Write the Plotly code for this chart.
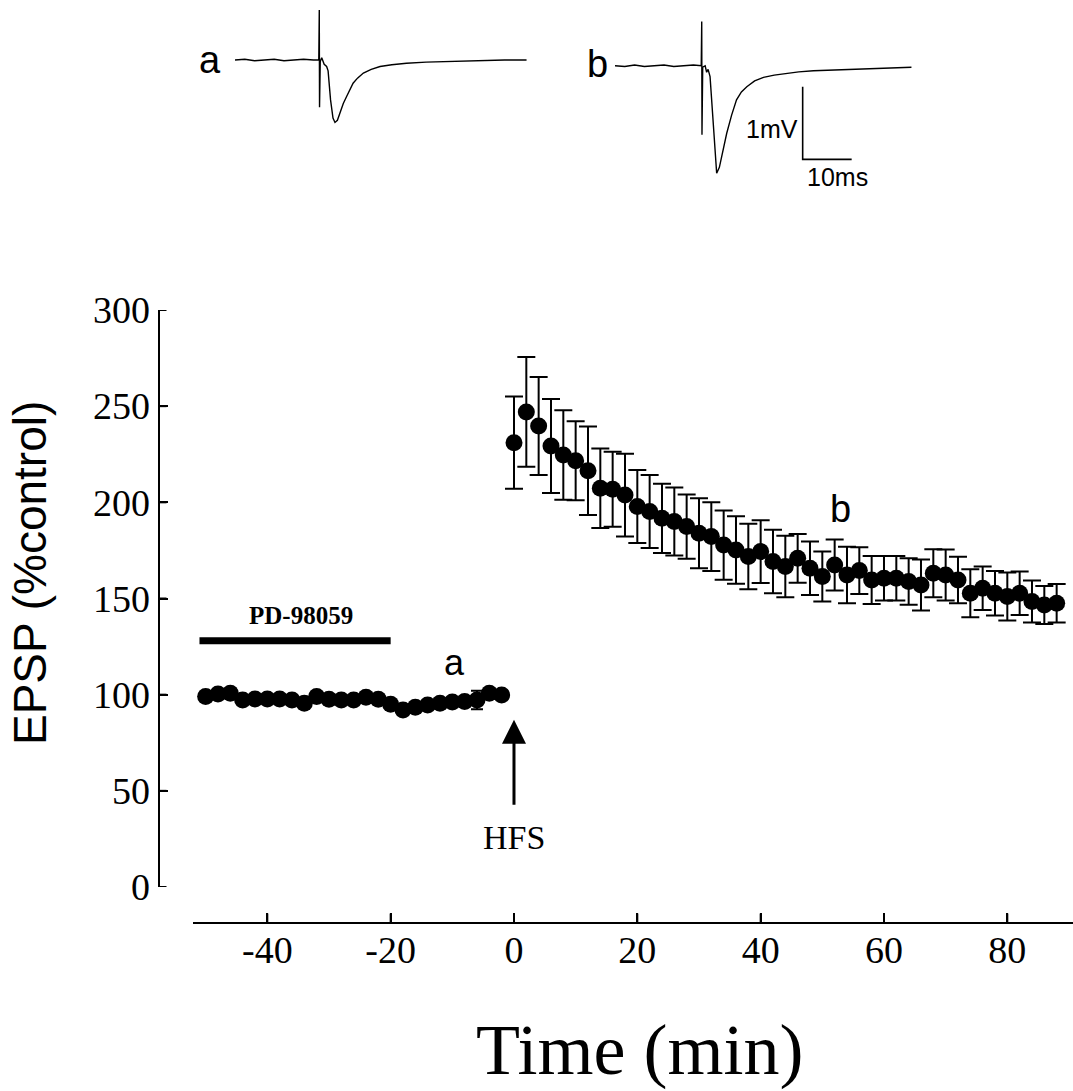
import plotly.graph_objects as go

# ---------------- data ----------------
base_time = [-50, -48, -46, -44, -42, -40, -38, -36, -34, -32, -30, -28, -26,
             -24, -22, -20, -18, -16, -14, -12, -10, -8, -6, -4, -2]
base_epsp = [99.0, 100.4, 100.7, 97.2, 97.8, 97.8, 97.8, 97.2, 95.5, 99.0, 97.6,
             97.2, 97.2, 98.6, 97.6, 95.0, 92.0, 93.4, 94.6, 95.5, 96.2, 96.4,
             97.2, 100.7, 99.8]
base_sem = [2, 2, 2, 2, 2, 2, 2, 2, 2, 2, 2, 2, 2, 2, 2, 2, 2, 2, 2, 2, 2, 2,
            4.8, 2, 2]

post_time = [0, 2, 4, 6, 8, 10, 12, 14, 16, 18, 20, 22, 24, 26, 28, 30, 32, 34,
             36, 38, 40, 42, 44, 46, 48, 50, 52, 54, 56, 58, 60, 62, 64, 66, 68,
             70, 72, 74, 76, 78, 80, 82, 84, 86, 88]
post_epsp = [231.0, 247.0, 239.7, 229.3, 224.6, 221.6, 216.4, 207.3, 206.8, 203.8,
             197.8, 195.2, 191.7, 190.0, 187.4, 183.9, 182.2, 177.8, 175.2, 171.8,
             174.4, 169.2, 166.6, 170.9, 165.7, 161.4, 167.4, 162.2, 164.5, 159.6,
             160.5, 160.5, 158.8, 157.0, 163.1, 162.2, 159.6, 152.7, 155.3, 152.7,
             151.0, 152.7, 148.4, 146.6, 147.5]
post_sem = [24.0, 28.5, 25.5, 24.4, 23.3, 20.5, 23.0, 20.7, 19.5, 21.5,
            19.0, 19.0, 18.0, 17.7, 16.7, 18.2, 17.9, 18.0, 17.5, 17.0,
            16.3, 16.5, 16.0, 12.7, 13.9, 13.0, 13.3, 14.7, 12.1, 12.5,
            11.6, 11.6, 12.1, 13.3, 12.5, 13.3, 12.1, 12.5, 11.3, 11.6,
            12.5, 11.3, 10.9, 9.9, 10.0]

drug_time = [-51, -20]
drug_level = [128, 128]

x_ticks = [-40, -20, 0, 20, 40, 60, 80]
x_tick_labels = ["-40", "-20", "0", "20", "40", "60", "80"]
y_ticks = [0, 50, 100, 150, 200, 250, 300]
y_tick_labels = ["0", "50", "100", "150", "200", "250", "300"]

# sample sweeps (ms, mV)
sweep_a_t = [0, 2, 4, 6, 8, 10, 12, 14, 16, 17.1, 17.2, 17.25, 17.4, 17.7, 18.2,
             18.7, 19.0, 19.5, 20.0, 20.4, 20.9, 21.4, 22.1, 22.8, 23.5, 24.1,
             25.0, 26.2, 27.8, 29.6, 32.0, 35.0, 39.0, 43.2, 47.0, 51.0, 55.0, 59.5]
sweep_a_v = [0.0, 0.01, -0.01, 0.0, 0.01, -0.01, 0.0, 0.01, 0.0, 0.0, 0.69, -0.65,
             -0.02, 0.03, -0.06, -0.09, -0.15, -0.55, -0.80, -0.86, -0.83, -0.73,
             -0.60, -0.50, -0.40, -0.32, -0.25, -0.18, -0.13, -0.09, -0.065, -0.045,
             -0.03, -0.02, -0.015, -0.01, 0.0, 0.0]
sweep_b_t = [0, 2, 4, 6, 8, 10, 12, 14, 16, 17.6, 17.7, 17.75, 17.9, 18.4, 18.7,
             19.0, 19.4, 20.1, 20.75, 21.3, 21.8, 22.3, 22.8, 23.8, 24.8, 25.8,
             26.9, 28.5, 30.3, 32.5, 35.0, 37.5, 40.5, 44.0, 47.3, 51.0, 54.1,
             57.5, 60.5]
sweep_b_v = [0.0, -0.01, 0.01, -0.01, 0.0, 0.01, -0.01, 0.0, 0.01, 0.0, 0.61,
             -0.95, -0.02, 0.0, -0.09, -0.05, -0.15, -0.84, -1.48, -1.40, -1.25,
             -1.10, -0.93, -0.68, -0.47, -0.36, -0.29, -0.21, -0.16, -0.13, -0.105,
             -0.085, -0.07, -0.06, -0.05, -0.04, -0.03, -0.025, -0.02]
scalebar_t = [38.3, 38.3, 48.3]
scalebar_v = [-0.29, -1.29, -1.29]

# ---------------- figure ----------------
W, H = 1073, 1091
SERIF = "Times New Roman, Liberation Serif, serif"
SANS = "Arial, Liberation Sans, Helvetica, sans-serif"


def py(p):
    return 1 - p / H


def px(p):
    return p / W


X_RANGE = [-52.1, 90.65]
Y_RANGE = [0, 300]
Y_LINE_PX = 158.5     # pixel column of the y axis line
X_LINE_PX = 922.5     # pixel row of the x axis line
TICK_LEN = 9

fig = go.Figure()

fig.add_trace(go.Scatter(
    x=post_time, y=post_epsp, mode="markers",
    marker=dict(color="black", size=17),
    error_y=dict(type="data", array=post_sem, visible=True, color="black",
                 thickness=2, width=9),
    showlegend=False))
fig.add_trace(go.Scatter(
    x=base_time, y=base_epsp, mode="markers",
    marker=dict(color="black", size=17),
    error_y=dict(type="data", array=base_sem, visible=True, color="black",
                 thickness=2, width=6),
    showlegend=False))
fig.add_trace(go.Scatter(
    x=drug_time, y=drug_level, mode="lines",
    line=dict(color="black", width=7), showlegend=False))

# sweeps
fig.add_trace(go.Scatter(x=sweep_a_t, y=sweep_a_v, mode="lines", xaxis="x2", yaxis="y2",
                         line=dict(color="black", width=1.4), showlegend=False))
fig.add_trace(go.Scatter(x=sweep_b_t, y=sweep_b_v, mode="lines", xaxis="x3", yaxis="y3",
                         line=dict(color="black", width=1.4), showlegend=False))
fig.add_trace(go.Scatter(x=scalebar_t, y=scalebar_v, mode="lines", xaxis="x3", yaxis="y3",
                         line=dict(color="black", width=1.6), showlegend=False))

fig.update_layout(
    width=W, height=H, autosize=False,
    margin=dict(l=0, r=0, t=0, b=0, pad=0),
    paper_bgcolor="white", plot_bgcolor="rgba(0,0,0,0)",
    xaxis=dict(domain=[px(192.7), 1], range=X_RANGE, anchor="free",
               position=py(X_LINE_PX), showline=True, linecolor="black", linewidth=2,
               ticks="inside", ticklen=TICK_LEN, tickwidth=2, tickcolor="black",
               tickvals=x_ticks, ticktext=x_tick_labels, ticklabelstandoff=-6,
               showgrid=False, zeroline=False,
               tickfont=dict(family=SERIF, size=38, color="black"),
               automargin=False),
    yaxis=dict(domain=[py(887), py(310)], range=Y_RANGE, anchor="free",
               position=px(Y_LINE_PX), showline=True, linecolor="black", linewidth=2,
               ticks="inside", ticklen=8, tickwidth=2, tickcolor="black",
               tickvals=y_ticks, ticktext=y_tick_labels,
               showgrid=False, zeroline=False,
               tickfont=dict(family=SERIF, size=38, color="black"),
               automargin=False),
    xaxis2=dict(domain=[px(235), px(235 + 60 * 4.9)], range=[0, 60], anchor="y2",
                visible=False),
    yaxis2=dict(domain=[py(132.6), py(1.9)], range=[-1.0, 0.8], anchor="x2",
                visible=False),
    xaxis3=dict(domain=[px(615), px(615 + 62 * 4.9)], range=[0, 62], anchor="y3",
                visible=False),
    yaxis3=dict(domain=[py(181.9), py(14.9)], range=[-1.6, 0.7], anchor="x3",
                visible=False),
)

# inward tick marks for the detached axes, placed at the tick values
shapes = []
for v in y_ticks:
    shapes.append(dict(type="line", xref="paper", yref="y",
                       x0=px(Y_LINE_PX), x1=px(Y_LINE_PX + 8), y0=v, y1=v,
                       line=dict(color="black", width=2)))
for v in x_ticks:
    shapes.append(dict(type="line", xref="x", yref="paper",
                       x0=v, x1=v, y0=py(X_LINE_PX), y1=py(X_LINE_PX - TICK_LEN),
                       line=dict(color="black", width=2)))
fig.update_layout(shapes=shapes)

C = dict(xanchor="center", yanchor="middle", showarrow=False)
ann = []
# axis titles
ann.append(dict(text="Time (min)", xref="paper", yref="paper", x=px(639), y=py(1050),
                font=dict(family=SERIF, size=72, color="black"), **C))
ann.append(dict(text="EPSP (%control)", xref="paper", yref="paper", x=px(30), y=py(573),
                textangle=-90, font=dict(family=SANS, size=46, color="black"), **C))
# labels in chart
ann.append(dict(text="<b>PD-98059</b>", x=-34.5, y=141.4, xref="x", yref="y",
                font=dict(family=SERIF, size=25, color="black"), **C))
ann.append(dict(text="a", x=-9.6, y=116.7, xref="x", yref="y",
                font=dict(family=SANS, size=36, color="black"), **C))
ann.append(dict(text="b", x=53, y=196.6, xref="x", yref="y",
                font=dict(family=SANS, size=38, color="black"), **C))
ann.append(dict(text="HFS", x=0, y=25.5, xref="x", yref="y",
                font=dict(family=SERIF, size=34, color="black"), **C))
ann.append(dict(text="", x=0, y=87, xref="x", yref="y", ax=0, ay=42, axref="x",
                ayref="y", showarrow=True, arrowhead=2, arrowsize=1.6,
                arrowwidth=3, arrowcolor="black"))
# sweep labels
ann.append(dict(text="a", xref="paper", yref="paper", x=px(210), y=py(60),
                font=dict(family=SANS, size=38, color="black"), **C))
ann.append(dict(text="b", xref="paper", yref="paper", x=px(597), y=py(64),
                font=dict(family=SANS, size=38, color="black"), **C))
ann.append(dict(text="1mV", xref="paper", yref="paper", x=px(771.5), y=py(129),
                font=dict(family=SANS, size=25, color="black"), **C))
ann.append(dict(text="10ms", xref="paper", yref="paper", x=px(837), y=py(177),
                font=dict(family=SANS, size=25, color="black"), **C))
fig.update_layout(annotations=ann)

fig.write_html("out.html")
